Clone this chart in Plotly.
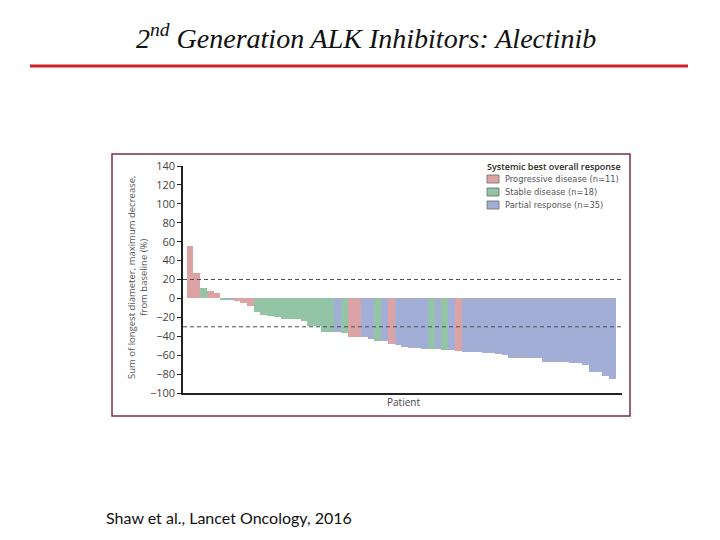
import plotly.graph_objects as go

# ---- data ----
patients = list(range(1, 65))
values = [55, 27, 11, 8, 6, -1, -1, -2.5, -4.5, -8.5,
          -14, -18, -18.5, -20, -21.5, -21.5, -21.5, -23.5, -29, -29,
          -35, -35, -36, -37, -40.5, -40.5, -41, -43, -44.5, -45.5,
          -48.5, -49.5, -51.5, -52, -52.5, -53, -53.5, -54, -54.5, -55,
          -56, -56.5, -57, -57, -57.5, -58, -58.5, -59.5, -62.5, -62.5,
          -63.5, -63.5, -63.5, -67, -67, -67, -67, -68.5, -68.5, -70.5,
          -77.5, -77.5, -82, -85.5]
response = (["PD", "PD", "SD", "PD", "PD", "SD", "PR", "PD", "PD", "PD"]
            + ["SD"] * 12
            + ["PR", "SD", "PD", "PD", "PR", "PR", "SD", "PR", "PD",
               "PR", "PR", "PR", "PR", "PR", "SD", "PR", "SD", "PR", "PD"]
            + ["PR"] * 23)
groups = ["PD", "SD", "PR"]
group_names = ["Progressive disease (n=11)", "Stable disease (n=18)", "Partial response (n=35)"]
group_colors = ["#dba3a3", "#93c4a6", "#a2aed6"]
legend_title = "Systemic best overall response"
thresholds = [20, -30]
ytick_vals = [140, 120, 100, 80, 60, 40, 20, 0, -20, -40, -60, -80, -100]
ytick_text = ["140", "120", "100", "80", "60", "40", "20", "0", "−20", "−40", "−60", "−80", "−100"]

fig = go.Figure()
for g, name, col in zip(groups, group_names, group_colors):
    xs = [p for p, r in zip(patients, response) if r == g]
    ys = [v for v, r in zip(values, response) if r == g]
    fig.add_trace(go.Bar(x=xs, y=ys, name=name, marker=dict(color=col, line=dict(width=0)),
                         width=1, showlegend=False))

# plot area geometry (pixels in the 720x540 page); page body has an 8px margin
OFF = 8
L, R, T, B = 183, 622, 166, 393
W, H = R - L, B - T
px = lambda x: (x - L) / W
py = lambda y: (B - y) / H

shapes = []
for t in thresholds:
    shapes.append(dict(type="line", xref="paper", yref="y", x0=0, x1=1, y0=t, y1=t,
                       line=dict(color="#4a4f5a", width=1, dash="4px,3px")))
# chart frame
shapes.append(dict(type="rect", xref="paper", yref="paper", x0=px(112), x1=px(630),
                   y0=py(416), y1=py(154), line=dict(color="#7a2e4e", width=1.5), layer="below"))
# red rule under title
shapes.append(dict(type="line", xref="paper", yref="paper", x0=px(30), x1=px(688),
                   y0=py(66), y1=py(66), line=dict(color="#cc1f2a", width=3)))

annotations = [
    dict(text="2<sup>nd</sup> Generation ALK Inhibitors: Alectinib", xref="paper", yref="paper",
         x=px(366), y=py(36), xanchor="center", yanchor="middle", showarrow=False,
         font=dict(family="Liberation Serif", size=28, color="#111111", style="italic")),
    dict(text="Shaw et al., Lancet Oncology, 2016", xref="paper", yref="paper",
         x=px(104), y=py(517), xanchor="left", yanchor="middle", showarrow=False,
         font=dict(family="Lato", size=16, color="#111111")),
    dict(text="Sum of longest diameter, maximum decrease,<br>from baseline (%)", xref="paper",
         yref="paper", x=px(137), y=py(278), xanchor="center", yanchor="middle",
         textangle=-90, showarrow=False,
         font=dict(family="Open Sans", size=9.5, color="#555555")),
    dict(text="Patient", xref="paper", yref="paper", x=px(403), y=py(402),
         xanchor="center", yanchor="middle", showarrow=False,
         font=dict(family="Open Sans", size=10, color="#444444")),
    dict(text=legend_title, xref="paper", yref="paper", x=px(486), y=py(166),
         xanchor="left", yanchor="middle", showarrow=False, borderpad=0,
         font=dict(family="Open Sans", size=9, color="#2a2a2a", weight=600)),
]

# compact legend (swatch + label per response group)
for i, (name, col) in enumerate(zip(group_names, group_colors)):
    yc = 179 + 13 * i
    shapes.append(dict(type="rect", xref="paper", yref="paper", x0=px(487), x1=px(499),
                       y0=py(yc + 4), y1=py(yc - 4), fillcolor=col,
                       line=dict(color="#6a6a6a", width=0.8)))
    annotations.append(dict(text=name, xref="paper", yref="paper", x=px(504), y=py(yc),
                            xanchor="left", yanchor="middle", showarrow=False, borderpad=0,
                            font=dict(family="DejaVu Sans", size=8.3, color="#555555")))

fig.update_layout(
    width=720 - OFF, height=540 - OFF,
    margin=dict(l=L - OFF, r=720 - R, t=T - OFF, b=540 - B, pad=0),
    paper_bgcolor="white", plot_bgcolor="white",
    barmode="overlay", bargap=0,
    shapes=shapes, annotations=annotations,
    showlegend=False,
    xaxis=dict(range=[-0.052, 65.44], showgrid=False, zeroline=False, showticklabels=False,
               ticks="", showline=True, linecolor="#222222", linewidth=1.5),
    yaxis=dict(range=[-100, 140], tickmode="array", tickvals=ytick_vals, ticktext=ytick_text,
               showgrid=False, zeroline=False, showline=True, linecolor="#222222", linewidth=1.5,
               ticks="outside", ticklen=4, tickcolor="#222222", tickwidth=1,
               tickfont=dict(family="Open Sans", size=11, color="#444444")),
    font=dict(family="Open Sans"),
)

fig.write_html("out.html")
